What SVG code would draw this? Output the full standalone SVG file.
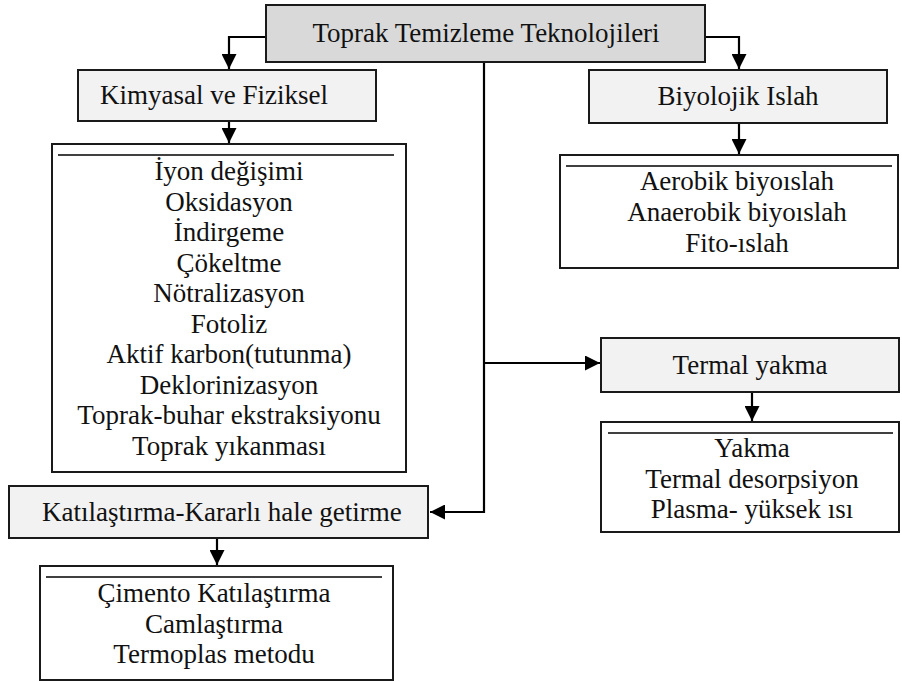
<svg xmlns="http://www.w3.org/2000/svg" width="902" height="682" viewBox="0 0 902 682">
<style>
  .box{fill:#f2f2f2;stroke:#1a1a1a;stroke-width:2}
  .top{fill:#d9d9d9;stroke:#1a1a1a;stroke-width:2}
  .list{fill:#ffffff;stroke:#1a1a1a;stroke-width:2}
  .sep{stroke:#000;stroke-width:1.5}
  text{font-family:"Liberation Serif","Times New Roman",serif;font-size:27px;fill:#111}
  .c{text-anchor:middle}
  .conn{fill:none;stroke:#000;stroke-width:2.2}
</style>
<defs>
  <marker id="ah" markerUnits="userSpaceOnUse" markerWidth="15" markerHeight="15" refX="15" refY="7.5" orient="auto">
    <path d="M0,0 L15,7.5 L0,15 z" fill="#000"/>
  </marker>
</defs>
<rect width="902" height="682" fill="#fff"/>

<g id="connectors">
  <path class="conn" d="M266,37 H229 V69" marker-end="url(#ah)"/>
  <path class="conn" d="M705,37 H739 V69" marker-end="url(#ah)"/>
  <path class="conn" d="M229,121 V143" marker-end="url(#ah)"/>
  <path class="conn" d="M739,123 V154" marker-end="url(#ah)"/>
  <path class="conn" d="M484,62 V512 H430" marker-end="url(#ah)"/>
  <path class="conn" d="M484,363 H600" marker-end="url(#ah)"/>
  <path class="conn" d="M752,392 V421" marker-end="url(#ah)"/>
  <path class="conn" d="M217,538 V565" marker-end="url(#ah)"/>
</g>

<g id="root">
  <rect class="top" x="266" y="5" width="439" height="57"/>
  <text class="c" x="486" y="42">Toprak Temizleme Teknolojileri</text>
</g>

<g id="kimyasal">
  <rect class="box" x="78" y="70" width="298" height="51"/>
  <text x="100" y="104">Kimyasal ve Fiziksel</text>
</g>

<g id="kimyasal-list">
  <rect class="list" x="52" y="144" width="354" height="328"/>
  <line class="sep" x1="58" y1="155" x2="394" y2="155"/>
  <text class="c" x="229" y="180">İyon değişimi</text>
  <text class="c" x="229" y="210.5">Oksidasyon</text>
  <text class="c" x="229" y="241">İndirgeme</text>
  <text class="c" x="229" y="271.5">Çökeltme</text>
  <text class="c" x="229" y="302">Nötralizasyon</text>
  <text class="c" x="229" y="332.5">Fotoliz</text>
  <text class="c" x="229" y="363">Aktif karbon(tutunma)</text>
  <text class="c" x="229" y="393.5">Deklorinizasyon</text>
  <text class="c" x="229" y="424">Toprak-buhar ekstraksiyonu</text>
  <text class="c" x="229" y="454.5">Toprak yıkanması</text>
</g>

<g id="biyolojik">
  <rect class="box" x="589" y="70" width="298" height="53"/>
  <text class="c" x="738" y="105">Biyolojik Islah</text>
</g>

<g id="biyolojik-list">
  <rect class="list" x="560" y="155" width="338" height="113"/>
  <line class="sep" x1="566" y1="166" x2="892" y2="166"/>
  <text class="c" x="737" y="190">Aerobik biyoıslah</text>
  <text class="c" x="737" y="221">Anaerobik biyoıslah</text>
  <text class="c" x="737" y="252">Fito-ıslah</text>
</g>

<g id="termal">
  <rect class="box" x="601" y="338" width="298" height="54"/>
  <text class="c" x="750" y="374">Termal yakma</text>
</g>

<g id="termal-list">
  <rect class="list" x="601" y="422" width="298" height="110"/>
  <line class="sep" x1="608" y1="433" x2="893" y2="433"/>
  <text class="c" x="752" y="457">Yakma</text>
  <text class="c" x="752" y="488">Termal desorpsiyon</text>
  <text class="c" x="752" y="518">Plasma- yüksek ısı</text>
</g>

<g id="katilastirma">
  <rect class="box" x="9" y="486" width="419" height="52"/>
  <text x="42" y="521">Katılaştırma-Kararlı hale getirme</text>
</g>

<g id="katilastirma-list">
  <rect class="list" x="40" y="566" width="353" height="114"/>
  <line class="sep" x1="46" y1="577" x2="382" y2="577"/>
  <text class="c" x="214" y="602">Çimento Katılaştırma</text>
  <text class="c" x="214" y="633">Camlaştırma</text>
  <text class="c" x="214" y="663">Termoplas metodu</text>
</g>
</svg>
